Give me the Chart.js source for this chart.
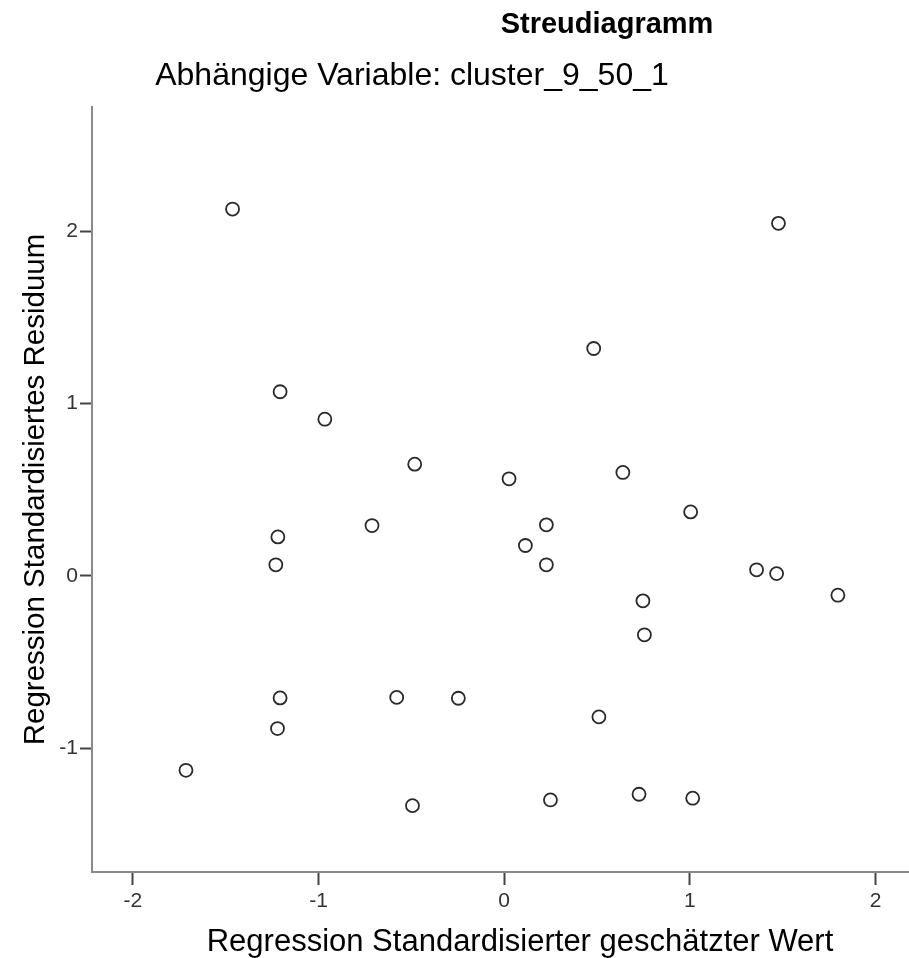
<!DOCTYPE html>
<html>
<head>
<meta charset="utf-8">
<script src="https://cdn.jsdelivr.net/npm/chart.js@4"></script>
<style>
  html, body { margin: 0; padding: 0; background: #fff; overflow: hidden; }
  #wrap { width: 909px; height: 958px; position: relative; }
  canvas { display: block; }
</style>
</head>
<body>
<div id="wrap"><canvas id="myChart"></canvas></div>
<script>
const chartTitle = 'Streudiagramm';
const chartSubtitle = 'Abhängige Variable: cluster_9_50_1';
const xTitle = 'Regression Standardisierter geschätzter Wert';
const yTitle = 'Regression Standardisiertes Residuum';

// standardized predicted value
const predicted = [
  -1.463, 1.477, 0.482, -1.207, -0.966, -0.482, 0.026, 0.639, 1.004, -0.712,
  -1.219, 0.114, 0.227, -1.230, 0.227, 1.359, 1.467, 0.747, 1.797, 0.755,
  -1.207, -0.579, -0.247, 0.510, -1.221, -1.714, -0.494, 0.249, 0.726, 1.015
];
// standardized residual
const residual = [
  2.128, 2.045, 1.319, 1.068, 0.909, 0.648, 0.563, 0.600, 0.371, 0.292,
  0.226, 0.176, 0.296, 0.064, 0.064, 0.035, 0.013, -0.145, -0.112, -0.342,
  -0.708, -0.705, -0.710, -0.818, -0.886, -1.128, -1.333, -1.300, -1.267, -1.290
];

const xTicks = [-2, -1, 0, 1, 2];
const yTicks = [-1, 0, 1, 2];

const font = '"Liberation Sans", Arial, sans-serif';

// titles sit off-centre in the original, so they are drawn by hand
const textPlugin = {
  id: 'texts',
  afterDraw(chart) {
    const ctx = chart.ctx;
    ctx.save();
    ctx.fillStyle = '#000';
    ctx.textAlign = 'center';
    ctx.textBaseline = 'middle';
    ctx.font = 'bold 29px ' + font;
    ctx.fillText(chartTitle, 607, 25);
    ctx.font = '32px ' + font;
    ctx.fillText(chartSubtitle, 412, 76);
    ctx.font = '31px ' + font;
    ctx.fillText(xTitle, 520, 942);
    ctx.restore();
  }
};

new Chart(
  document.getElementById('myChart'),
  {
    type: 'scatter',
    data: {
      datasets: [
        {
          data: predicted.map((x, i) => ({ x: x, y: residual[i] })),
          pointRadius: 6.5,
          pointHoverRadius: 6.5,
          pointBorderWidth: 1.8,
          borderColor: '#2a2a2a',
          backgroundColor: '#fff'
        }
      ]
    },
    plugins: [textPlugin],
    options: {
      responsive: true,
      maintainAspectRatio: false,
      animation: false,
      layout: {
        autoPadding: false,
        padding: { top: 107, right: 0, bottom: 0, left: 0 }
      },
      plugins: {
        legend: { display: false },
        tooltip: { enabled: false }
      },
      scales: {
        x: {
          type: 'linear',
          min: -2.22,
          max: 2.18,
          afterFit: (s) => {
            s.height = 86;
            s.paddingLeft = 0;
            s.paddingRight = 0;
          },
          afterBuildTicks: (s) => { s.ticks = xTicks.map(v => ({ value: v })); },
          border: { color: '#8a8a8a', width: 2 },
          grid: {
            drawOnChartArea: false,
            drawTicks: true,
            tickLength: 13,
            tickWidth: 2,
            tickColor: '#444'
          },
          ticks: {
            color: '#333',
            padding: 4,
            maxRotation: 0,
            font: { size: 21, family: font },
            callback: (v) => String(v)
          }
        },
        y: {
          type: 'linear',
          min: -1.718,
          max: 2.72,
          afterFit: (s) => {
            s.width = 92;
            s.paddingTop = 0;
            s.paddingBottom = 0;
          },
          afterBuildTicks: (s) => { s.ticks = yTicks.map(v => ({ value: v })); },
          border: { color: '#8a8a8a', width: 2 },
          grid: {
            drawOnChartArea: false,
            drawTicks: true,
            tickLength: 12,
            tickWidth: 2,
            tickColor: '#444'
          },
          ticks: {
            color: '#333',
            padding: 2,
            font: { size: 21, family: font },
            callback: (v) => String(v)
          },
          title: {
            display: true,
            text: yTitle,
            color: '#000',
            padding: { top: 18, bottom: 0 },
            font: { size: 29.5, family: font }
          }
        }
      }
    }
  }
)
</script>
</body>
</html>
